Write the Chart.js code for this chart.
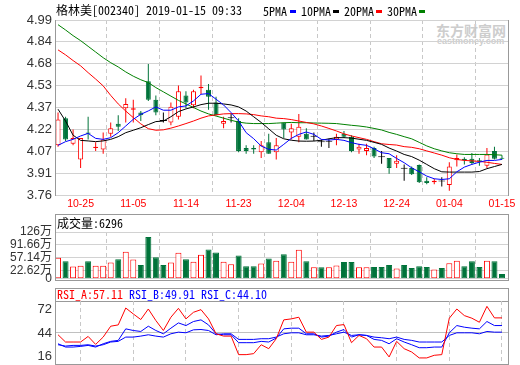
<!DOCTYPE html>
<html>
<head>
<meta charset="utf-8">
<script src="https://cdn.jsdelivr.net/npm/chart.js@4.4.1/dist/chart.umd.min.js"></script>
<style>
  html, body { margin: 0; padding: 0; background: #fff; overflow: hidden; }
  #wrap { position: relative; width: 520px; height: 365px; overflow: hidden; }
  #wrap, .txt { font-family: 'Noto Sans Mono CJK SC', 'Noto Sans CJK SC', 'Liberation Mono', monospace; font-size: 12px; }
  .box { position: absolute; border: 1px solid #999; box-sizing: border-box; }
  .sep { position: absolute; height: 1px; background: #999; }
  .txt { position: absolute; white-space: nowrap; line-height: 14px; color: #000; }
  .dash { position: absolute; width: 6px; height: 3px; }
  .mark { position: absolute; white-space: nowrap; color: #cdcdcd; font-family: 'Noto Sans CJK SC', 'Liberation Sans', sans-serif; }
  canvas { position: absolute; left: 0; }
</style>
</head>
<body>
<div id="wrap">
  <div class="mark" style="left:436px;top:20px;font-size:14px;font-weight:bold">东方财富网</div>
  <div class="mark" style="left:437px;top:36px;font-size:9px;font-weight:bold;font-family:'Liberation Sans',sans-serif">eastmoney.com</div>

  <div class="box" style="left:55px;top:20px;width:454px;height:176px"></div>
  <div class="box" style="left:55px;top:214px;width:454px;height:67px"></div>
  <div class="sep" style="left:55px;top:232px;width:454px"></div>
  <div class="box" style="left:55px;top:288px;width:454px;height:77px"></div>
  <div class="sep" style="left:55px;top:301px;width:454px"></div>

  <canvas id="kline" width="520" height="210" style="top:0"></canvas>
  <canvas id="vol" width="520" height="80" style="top:210px"></canvas>
  <canvas id="rsi" width="520" height="90" style="top:285px"></canvas>

  <div class="txt" style="left:56px;top:3px">格林美[002340] 2019-01-15 09:33</div>
  <div class="txt" style="left:263px;top:4px">5PMA</div>
  <div class="dash" style="left:290px;top:10px;background:#0000ff"></div>
  <div class="txt" style="left:301px;top:4px">10PMA</div>
  <div class="dash" style="left:333px;top:10px;background:#000"></div>
  <div class="txt" style="left:344px;top:4px">20PMA</div>
  <div class="dash" style="left:376px;top:10px;background:#ff0000"></div>
  <div class="txt" style="left:387px;top:4px">30PMA</div>
  <div class="dash" style="left:419px;top:10px;background:#008000"></div>

  <div class="txt" style="left:57px;top:216px">成交量:6296</div>

  <div class="txt" style="left:57px;top:287px;color:#ff0000">RSI_A:57.11</div>
  <div class="txt" style="left:129px;top:287px;color:#0000ff">RSI_B:49.91</div>
  <div class="txt" style="left:201px;top:287px;color:#0000ff">RSI_C:44.10</div>
</div>

<script>
const UP = '#ff0000'
const DOWN = '#00733a'
const FLAT = '#000000'
const X_MIN = -0.27
const X_MAX = 59.8

const dates = [
  '10-22', '10-23', '10-24', '10-25', '10-26', '10-29', '10-30', '10-31', '11-01', '11-02',
  '11-05', '11-06', '11-07', '11-08', '11-09', '11-12', '11-13', '11-14', '11-15', '11-16',
  '11-19', '11-20', '11-21', '11-22', '11-23', '11-26', '11-27', '11-28', '11-29', '11-30',
  '12-03', '12-04', '12-05', '12-06', '12-07', '12-10', '12-11', '12-12', '12-13', '12-14',
  '12-17', '12-18', '12-19', '12-20', '12-21', '12-24', '12-25', '12-26', '12-27', '12-28',
  '01-02', '01-03', '01-04', '01-07', '01-08', '01-09', '01-10', '01-11', '01-14', '01-15'
]
const dateTicks = ['10-25', '11-05', '11-14', '11-23', '12-04', '12-13', '12-24', '01-04', '01-15']

const priceMin = 3.76
const priceMax = 4.99
const priceTicks = ['3.76', '3.91', '4.07', '4.22', '4.37', '4.53', '4.68', '4.84', '4.99']

const volMax = 126.18
const volTicks = [0, 22.62, 57.14, 91.66, 126.18]
const volTickLabels = ['0', '22.62万', '57.14万', '91.66万', '126万']

const rsiMin = 7.3
const rsiMax = 82.8
const rsiTicks = [16, 44, 72]

const open = [
  4.11, 4.30, 4.12, 4.01, 4.20, 4.09, 4.08, 4.19, 4.26, 4.37,
  4.36, 4.34, 4.56, 4.43, 4.28, 4.27, 4.31, 4.46, 4.39, 4.51,
  4.50, 4.41, 4.26, 4.30, 4.28, 4.09, 4.09, 4.06, 4.13, 4.06,
  4.27, 4.20, 4.17, 4.19, 4.17, 4.13, 4.135, 4.15, 4.19, 4.17,
  4.08, 4.07, 4.09, 4.025, 4.02, 3.98, 3.945, 3.95, 3.97, 3.86,
  3.85, 3.855, 3.83, 4.005, 4.015, 4.015, 4.005, 3.965, 4.07, 4.02
]
const high = [
  4.34, 4.31, 4.22, 4.16, 4.31, 4.13, 4.20, 4.27, 4.32, 4.44,
  4.43, 4.35, 4.68, 4.46, 4.34, 4.41, 4.53, 4.49, 4.50, 4.60,
  4.54, 4.45, 4.31, 4.33, 4.30, 4.11, 4.11, 4.14, 4.19, 4.16,
  4.27, 4.26, 4.33, 4.23, 4.20, 4.15, 4.155, 4.19, 4.21, 4.18,
  4.12, 4.12, 4.10, 4.07, 4.02, 4.04, 3.975, 3.96, 3.975, 3.885,
  3.875, 3.885, 3.99, 4.045, 4.025, 4.055, 4.02, 4.09, 4.10, 4.04
]
const low = [
  4.10, 4.14, 4.11, 3.95, 4.15, 4.07, 4.05, 4.17, 4.21, 4.27,
  4.27, 4.28, 4.42, 4.32, 4.27, 4.25, 4.29, 4.37, 4.37, 4.47,
  4.36, 4.32, 4.23, 4.27, 4.06, 4.05, 4.05, 4.02, 4.05, 4.01,
  4.16, 4.15, 4.13, 4.15, 4.14, 4.10, 4.09, 4.11, 4.16, 4.06,
  4.05, 4.04, 4.02, 3.98, 3.91, 3.95, 3.86, 3.90, 3.845, 3.835,
  3.835, 3.82, 3.79, 3.96, 3.975, 3.975, 3.965, 3.95, 4.01, 4.01
]
const close = [
  4.29, 4.15, 4.16, 4.16, 4.19, 4.10, 4.15, 4.23, 4.24, 4.40,
  4.37, 4.32, 4.43, 4.34, 4.28, 4.38, 4.49, 4.41, 4.49, 4.52,
  4.45, 4.32, 4.28, 4.30, 4.07, 4.07, 4.08, 4.11, 4.05, 4.11,
  4.22, 4.23, 4.24, 4.15, 4.17, 4.13, 4.135, 4.17, 4.17, 4.07,
  4.10, 4.09, 4.03, 4.025, 3.95, 4.00, 3.945, 3.905, 3.85, 3.845,
  3.86, 3.855, 3.96, 4.02, 4.005, 3.985, 3.995, 4.045, 4.015, 4.015
]
// 万手
const volume = [
  57, 47, 33, 35, 47, 35, 35, 44, 53, 73,
  52, 37, 113, 58, 37, 44, 70, 53, 46, 65,
  79, 71, 46, 39, 63, 34, 34, 41, 55, 49,
  66, 46, 78, 47, 31, 31, 31, 36, 45, 45,
  31, 31, 32, 32, 37, 28, 37, 29, 34, 32,
  25, 29, 42, 49, 34, 47, 32, 49, 47, 13
]

const ma5 = [
  4.109, 4.135, 4.151, 4.175, 4.193, 4.158, 4.151, 4.163, 4.198, 4.245,
  4.292, 4.327, 4.351, 4.379, 4.356, 4.356, 4.379, 4.386, 4.421, 4.468,
  4.473, 4.433, 4.393, 4.339, 4.280, 4.198, 4.156, 4.104, 4.081, 4.076,
  4.116, 4.158, 4.186, 4.203, 4.186, 4.151, 4.146, 4.151, 4.144, 4.128,
  4.116, 4.109, 4.085, 4.057, 4.050, 4.017, 3.987, 3.951, 3.923, 3.893,
  3.874, 3.869, 3.874, 3.923, 3.956, 3.975, 3.991, 4.003, 4.003, 4.010
]
const ma10 = [
  4.363, 4.280, 4.180, 4.144, 4.140, 4.135, 4.140, 4.151, 4.170, 4.198,
  4.215, 4.233, 4.255, 4.276, 4.280, 4.310, 4.346, 4.365, 4.379, 4.395,
  4.405, 4.405, 4.400, 4.393, 4.379, 4.350, 4.310, 4.270, 4.225, 4.180,
  4.155, 4.145, 4.139, 4.138, 4.139, 4.145, 4.155, 4.163, 4.163, 4.160,
  4.152, 4.144, 4.130, 4.116, 4.090, 4.069, 4.045, 4.030, 4.005, 3.975,
  3.945, 3.923, 3.921, 3.921, 3.921, 3.921, 3.925, 3.945, 3.960, 3.975
]
const ma20 = [
  4.780, 4.745, 4.705, 4.668, 4.620, 4.575, 4.527, 4.460, 4.400, 4.350,
  4.304, 4.260, 4.226, 4.215, 4.218, 4.230, 4.245, 4.262, 4.280, 4.300,
  4.316, 4.323, 4.330, 4.332, 4.332, 4.330, 4.325, 4.316, 4.310, 4.300,
  4.297, 4.290, 4.280, 4.270, 4.260, 4.245, 4.228, 4.210, 4.190, 4.175,
  4.163, 4.151, 4.135, 4.120, 4.115, 4.111, 4.100, 4.095, 4.085, 4.070,
  4.055, 4.040, 4.022, 4.010, 4.003, 4.000, 3.996, 3.990, 3.982, 3.975
]
const ma30 = [
  4.957, 4.920, 4.880, 4.845, 4.805, 4.765, 4.725, 4.690, 4.660, 4.625,
  4.595, 4.570, 4.550, 4.515, 4.485, 4.455, 4.425, 4.400, 4.375, 4.350,
  4.330, 4.315, 4.300, 4.285, 4.272, 4.265, 4.262, 4.262, 4.262, 4.265,
  4.268, 4.270, 4.268, 4.268, 4.266, 4.265, 4.264, 4.262, 4.256, 4.250,
  4.245, 4.238, 4.228, 4.217, 4.200, 4.186, 4.170, 4.155, 4.130, 4.105,
  4.085, 4.070, 4.057, 4.050, 4.045, 4.045, 4.045, 4.045, 4.043, 4.040
]

const rsiA = [
  41.8, 33.0, 33.0, 33.0, 39.8, 30.1, 39.0, 52.2, 53.8, 74.3,
  67.1, 60.3, 73.1, 59.1, 47.0, 63.1, 73.9, 61.1, 69.1, 72.3,
  61.1, 43.0, 40.2, 40.2, 17.7, 17.7, 18.9, 29.7, 24.9, 37.0,
  59.9, 61.1, 63.1, 45.0, 45.0, 36.2, 39.0, 53.0, 54.2, 32.2,
  41.0, 37.0, 26.9, 26.9, 14.9, 33.8, 24.9, 20.9, 13.7, 13.7,
  16.9, 17.7, 61.9, 73.1, 65.1, 61.9, 57.0, 76.3, 62.3, 62.3
]
const rsiB = [
  30.9, 26.9, 26.9, 27.7, 28.9, 26.9, 30.9, 33.8, 35.0, 49.0,
  47.0, 45.8, 52.2, 47.0, 43.0, 49.8, 56.2, 53.0, 57.9, 59.9,
  53.8, 43.0, 41.8, 41.8, 32.2, 32.2, 32.2, 33.8, 33.0, 37.8,
  49.0, 49.8, 49.8, 43.0, 43.0, 39.0, 40.2, 45.0, 48.2, 39.0,
  41.8, 41.0, 36.2, 35.0, 30.9, 37.0, 33.0, 29.7, 26.1, 26.1,
  26.9, 26.9, 44.2, 53.0, 51.0, 49.8, 49.0, 57.9, 53.0, 53.0
]
const rsiC = [
  29.7, 28.1, 28.9, 28.9, 29.7, 28.1, 29.7, 33.0, 33.8, 39.0,
  39.0, 40.2, 41.8, 40.2, 39.0, 43.0, 45.0, 44.2, 47.8, 48.2,
  47.0, 41.8, 43.0, 43.0, 36.2, 36.2, 36.2, 37.0, 37.0, 39.0,
  43.0, 44.2, 44.2, 41.8, 41.8, 40.2, 41.0, 43.0, 45.0, 41.0,
  41.8, 41.0, 39.0, 38.2, 37.0, 39.0, 36.2, 35.0, 33.0, 33.0,
  33.0, 33.0, 41.0, 44.2, 44.2, 44.2, 43.0, 45.8, 45.0, 45.0
]

const AXIS_FONT = "'Liberation Sans', 'Noto Sans CJK SC', sans-serif"
const dateTickIdx = dateTicks.map((d) => dates.indexOf(d))
const allIdx = dates.map((d, i) => i)

function candleColor(i) {
  if (close[i] > open[i]) return UP
  if (close[i] < open[i]) return DOWN
  return FLAT
}

// flat days take their colour from the previous close
function volumeUp(i) {
  if (close[i] !== open[i]) return close[i] > open[i]
  return i > 0 && close[i] > close[i - 1]
}

function xAxis(showLabels) {
  return {
    type: 'linear',
    min: X_MIN,
    max: X_MAX,
    offset: false,
    afterBuildTicks: (scale) => { scale.ticks = dateTickIdx.map((v) => ({ value: v })) },
    afterFit: (scale) => { scale.height = showLabels ? 15 : 0 },
    grid: { color: '#c8c8c8', drawTicks: false },
    border: { display: false, dash: [4, 3] },
    ticks: {
      display: showLabels,
      autoSkip: false,
      maxRotation: 0,
      padding: 3,
      color: '#ff0000',
      font: { family: AXIS_FONT, size: 10.5 },
      callback: (v) => dates[v]
    }
  }
}

function yAxis(min, max, values, label, gridColor, size) {
  return {
    min: min,
    max: max,
    afterBuildTicks: (scale) => { scale.ticks = values.map((v) => ({ value: v })) },
    afterFit: (scale) => { scale.width = 56 },
    grid: { color: gridColor, drawTicks: false },
    border: { display: false },
    ticks: {
      autoSkip: false,
      padding: 4,
      color: '#333',
      font: { family: AXIS_FONT, size: size },
      callback: (v, i) => label(v, i)
    }
  }
}

function chartOptions(padTop, padBottom, x, y) {
  return {
    responsive: false,
    animation: false,
    devicePixelRatio: 1,
    events: [],
    layout: { padding: { left: 0, right: 12, top: padTop, bottom: padBottom } },
    plugins: { legend: { display: false }, tooltip: { enabled: false } },
    scales: { x: x, y: y }
  }
}

function lineSet(values, color) {
  return {
    type: 'line',
    order: 0,
    data: values.map((v, i) => ({ x: i, y: v })),
    borderColor: color,
    borderWidth: 1,
    pointRadius: 0,
    tension: 0,
    fill: false
  }
}

function barSet(idx, toY, thickness, fill, stroke, order) {
  return {
    type: 'bar',
    order: order,
    data: idx.map((i) => ({ x: i, y: toY(i) })),
    backgroundColor: idx.map(fill),
    borderColor: idx.map(stroke),
    borderWidth: thickness > 1 ? 1 : 0,
    borderSkipped: false,
    barThickness: thickness,
    minBarLength: 1,
    grouped: false,
    inflateAmount: 0
  }
}

// price panel
const priceStep = (priceMax - priceMin) / (priceTicks.length - 1)
const bodyIdx = allIdx.filter((i) => close[i] !== open[i])
const flatIdx = allIdx.filter((i) => close[i] === open[i])

new Chart(document.getElementById('kline'), {
  type: 'bar',
  data: {
    datasets: [
      lineSet(ma5, '#0000ff'),
      lineSet(ma10, '#000000'),
      lineSet(ma20, '#ff0000'),
      lineSet(ma30, '#008000'),
      barSet(bodyIdx, (i) => [open[i], close[i]], 5,
        (i) => close[i] > open[i] ? '#ffffff' : DOWN, candleColor, 1),
      barSet(flatIdx, (i) => [open[i], close[i]], 7, candleColor, candleColor, 1),
      barSet(allIdx, (i) => [low[i], high[i]], 1, candleColor, candleColor, 2)
    ]
  },
  options: chartOptions(20, 0, xAxis(true),
    yAxis(priceMin, priceMax, priceTicks.map((t, k) => priceMin + k * priceStep),
      (v, i) => priceTicks[i], '#d2d2d2', 13))
})

// volume panel
new Chart(document.getElementById('vol'), {
  type: 'bar',
  data: {
    datasets: [
      barSet(allIdx, (i) => volume[i], 6,
        (i) => volumeUp(i) ? '#ffffff' : DOWN, (i) => volumeUp(i) ? UP : DOWN, 1)
    ]
  },
  options: chartOptions(22, 10, xAxis(false),
    yAxis(0, volMax, volTicks, (v, i) => volTickLabels[i], '#d2d2d2', 12))
})

// RSI panel
new Chart(document.getElementById('rsi'), {
  type: 'line',
  data: {
    datasets: [
      lineSet(rsiA, '#ff0000'),
      lineSet(rsiB, '#0000ff'),
      lineSet(rsiC, '#0000ff')
    ]
  },
  options: chartOptions(16, 11, xAxis(false),
    yAxis(rsiMin, rsiMax, rsiTicks, (v) => String(v),
      (ctx) => ctx.tick && ctx.tick.value === 44 ? '#c0c0c0' : 'rgba(0,0,0,0)', 13))
})
</script>
</body>
</html>
